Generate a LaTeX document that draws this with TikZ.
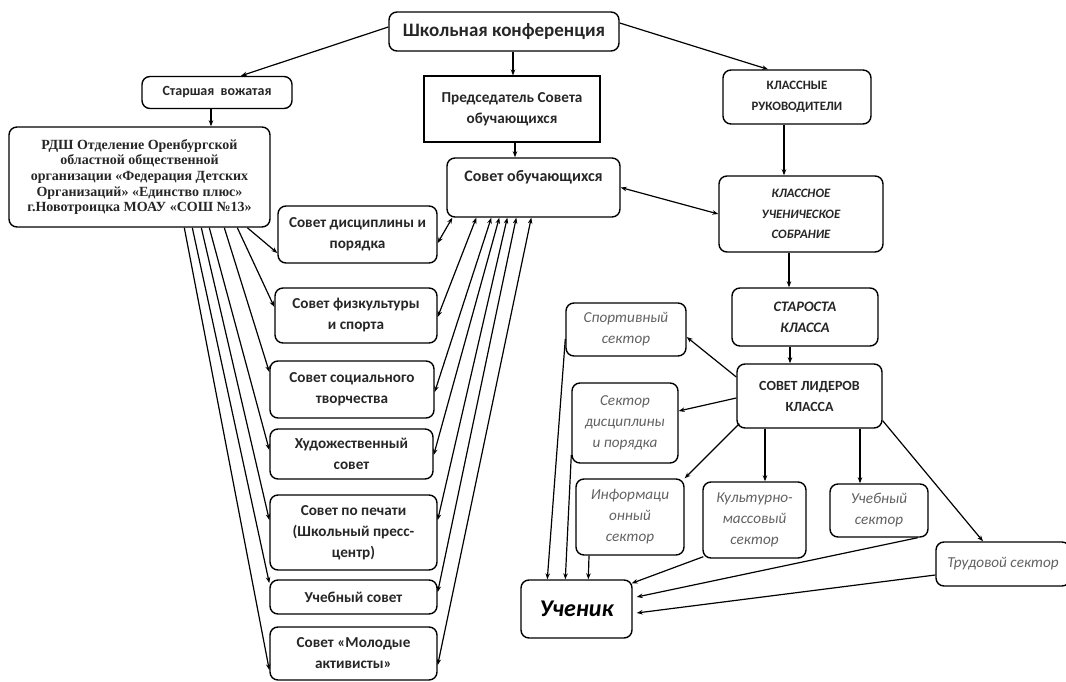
\documentclass[tikz,border=0pt]{standalone}
\usepackage{fontspec}
\setmainfont{Carlito}
\newfontfamily\rdshfont{Liberation Serif}
\usetikzlibrary{arrows.meta}
\begin{document}
\begin{tikzpicture}[x=1pt,y=-1pt,
  box/.style={draw, line width=1.4pt, rounded corners=8pt, align=center, inner sep=2pt,
    text=black!85, font=\bfseries\fontsize{15.2}{21}\selectfont},
  capbox/.style={box, font=\bfseries\fontsize{12.8}{20.5}\selectfont},
  capitbox/.style={box, font=\bfseries\itshape\fontsize{12.8}{20.5}\selectfont},
  sect/.style={box, text=black!62, font=\itshape\fontsize{15.2}{21}\selectfont},
  conn/.style={line width=1.2pt, -{Stealth[length=6pt,width=4.5pt]}},
  bi/.style={line width=1.2pt, {Stealth[length=6pt,width=4.5pt]}-{Stealth[length=6pt,width=4.5pt]}}]
\path[use as bounding box] (0,0) rectangle (1066,682);
\clip (0,0) rectangle (1066,682);

% top level
\node[box, minimum width=230pt, minimum height=39pt, font=\bfseries\fontsize{19}{22}\selectfont] (konf) at (504,31.5) {Школьная конференция};
\node[box, minimum width=150pt, minimum height=32pt, font=\bfseries\fontsize{14}{20}\selectfont] (vozh) at (217,92.5) {Старшая\ \ вожатая};
\node[box, rounded corners=0pt, line width=1.1pt, minimum width=176pt, minimum height=66pt] (pred) at (512,109) {Председатель Совета\\обучающихся};
\node[capbox, minimum width=148pt, minimum height=54pt] (klruk) at (797,97) {КЛАССНЫЕ\\РУКОВОДИТЕЛИ};
\node[box, minimum width=261pt, minimum height=100pt, font=\rdshfont\bfseries\fontsize{14}{15.6}\selectfont] (rdsh) at (139.5,177) {РДШ Отделение Оренбургской\\областной общественной\\организации «Федерация Детских\\Организаций» «Единство плюс»\\г.Новотроицка МОАУ «СОШ №13»};
\node[box, minimum width=173pt, minimum height=59pt, font=\bfseries\fontsize{16}{21}\selectfont] (sovob) at (533.5,187.5) {Совет обучающихся\\[2pt]~};
\node[capitbox, minimum width=164pt, minimum height=76pt] (klsobr) at (801,214) {КЛАССНОЕ\\УЧЕНИЧЕСКОЕ\\СОБРАНИЕ};

% councils
\node[box, minimum width=159pt, minimum height=57pt] (sd) at (357.5,234.5) {Совет дисциплины и\\порядка};
\node[box, minimum width=162pt, minimum height=55pt] (sf) at (356,315.5) {Совет физкультуры\\и спорта};
\node[box, minimum width=164pt, minimum height=57pt] (ss) at (352,389.5) {Совет социального\\творчества};
\node[box, minimum width=163pt, minimum height=50pt] (hud) at (351.5,454) {Художественный\\совет};
\node[box, minimum width=167pt, minimum height=75pt] (pech) at (353.5,532.5) {Совет по печати\\(Школьный пресс-\\центр)};
\node[box, minimum width=167pt, minimum height=34pt] (ucheb) at (353.5,597) {Учебный совет};
\node[box, minimum width=167pt, minimum height=53pt] (mol) at (353.5,653.5) {Совет «Молодые\\активисты»};

% class side
\node[capitbox, minimum width=146pt, minimum height=58pt, font=\bfseries\itshape\fontsize{14.5}{21}\selectfont] (star) at (805,317) {СТАРОСТА\\КЛАССА};
\node[capbox, minimum width=145pt, minimum height=64pt, font=\bfseries\fontsize{14}{21}\selectfont] (sl) at (809.5,396) {СОВЕТ ЛИДЕРОВ\\КЛАССА};
\node[sect, minimum width=120pt, minimum height=53pt] (sport) at (626,329.5) {Спортивный\\сектор};
\node[sect, minimum width=106pt, minimum height=80pt] (sdis) at (625,423) {Сектор\\дисциплины\\и порядка};
\node[sect, minimum width=108pt, minimum height=76pt] (inf) at (630,517) {Информаци\\онный\\сектор};
\node[sect, minimum width=103pt, minimum height=76pt] (kult) at (754.5,520) {Культурно-\\массовый\\сектор};
\node[sect, minimum width=98pt, minimum height=53pt] (uchsek) at (879,510.5) {Учебный\\сектор};
\node[sect, minimum width=134pt, minimum height=44pt] (trud) at (1003,564) {Трудовой сектор};
\node[box, minimum width=111pt, minimum height=58pt, font=\bfseries\itshape\fontsize{24}{28}\selectfont, text=black] (uchenik) at (576.5,609) {Ученик};

% top connectors
\draw[conn] ([yshift=4.5pt]konf.west) -- ([xshift=24pt]vozh.north);
\draw[conn] ([xshift=9pt]konf.south) -- ([xshift=1pt]pred.north);
\draw[conn] ([yshift=8.5pt]konf.east) -- ([xshift=-29pt]klruk.north);
\draw[conn] ([xshift=-6pt]vozh.south) -- ([xshift=71.5pt]rdsh.north);
\draw[conn] ([xshift=3pt]pred.south) -- ([xshift=-18.5pt]sovob.north);
\draw[conn] ([xshift=-13pt]klruk.south) -- ([xshift=-17pt]klsobr.north);
\draw[bi] (sovob.east) -- (klsobr.west);
\draw[conn] ([xshift=-12pt]klsobr.south) -- ([xshift=-16pt]star.north);
\draw[conn] ([xshift=-15pt]star.south) -- ([xshift=-19.5pt]sl.north);

% fan from RDSh to councils
\draw[conn] ([xshift=239pt]rdsh.south west) -- ([yshift=-18.5pt]sd.west);
\draw[conn] ([xshift=229pt]rdsh.south west) -- ([yshift=8.5pt]sf.west);
\draw[conn] ([xshift=216pt]rdsh.south west) -- ([yshift=17.5pt]ss.west);
\draw[conn] ([xshift=201pt]rdsh.south west) -- ([yshift=4pt]hud.west);
\draw[conn] ([xshift=193pt]rdsh.south west) -- ([yshift=12.5pt]pech.west);
\draw[conn] ([xshift=184pt]rdsh.south west) -- ([yshift=14pt]ucheb.west);
\draw[conn] ([xshift=176pt]rdsh.south west) -- ([yshift=-16.5pt]mol.west);

% councils to Sovet obuchayushchihsya
\draw[bi] ([yshift=-8.5pt]sd.east) -- ([xshift=6pt]sovob.south west);
\draw[bi] ([yshift=-1.5pt]sf.east) -- ([xshift=30pt]sovob.south west);
\draw[bi] ([yshift=-2.5pt]ss.east) -- ([xshift=45pt]sovob.south west);
\draw[bi] ([yshift=-1pt]hud.east) -- ([xshift=53pt]sovob.south west);
\draw[bi] ([yshift=12.5pt]pech.east) -- ([xshift=61pt]sovob.south west);
\draw[bi] ([yshift=5pt]ucheb.east) -- ([xshift=70pt]sovob.south west);
\draw[bi] ([yshift=-11.5pt]mol.east) -- ([xshift=85pt]sovob.south west);

% leaders council to sectors
\draw[conn] ([yshift=19pt]sl.west) -- ([yshift=-7.5pt]sport.east);
\draw[conn] ([yshift=-2pt]sl.west) -- ([yshift=12pt]sdis.east);
\draw[conn] ([xshift=3pt,yshift=5pt]sl.south west) -- (inf.north east);
\draw[conn] ([xshift=-44.5pt]sl.south) -- ([xshift=10.5pt]kult.north);
\draw[conn] ([xshift=50.5pt]sl.south) -- ([xshift=-19pt]uchsek.north);
\draw[conn] ([yshift=8pt]sl.south east) -- ([xshift=-20pt]trud.north);

% sectors to pupil
\draw[conn] ([yshift=-9.5pt]sport.west) -- ([xshift=27pt]uchenik.north west);
\draw[conn] ([yshift=-32pt]sdis.west) -- ([xshift=45pt]uchenik.north west);
\draw[conn] ([xshift=-41pt]inf.south) -- ([xshift=68pt]uchenik.north west);
\draw[conn] ([xshift=1pt,yshift=2pt]kult.south west) -- ([xshift=-1pt,yshift=-4pt]uchenik.north east);
\draw[conn] ([xshift=-11pt]uchsek.south east) -- ([xshift=4pt,yshift=12pt]uchenik.east);
\draw[conn] ([yshift=-11pt]trud.west) -- ([xshift=4pt,yshift=-4pt]uchenik.east);
\end{tikzpicture}
\end{document}
